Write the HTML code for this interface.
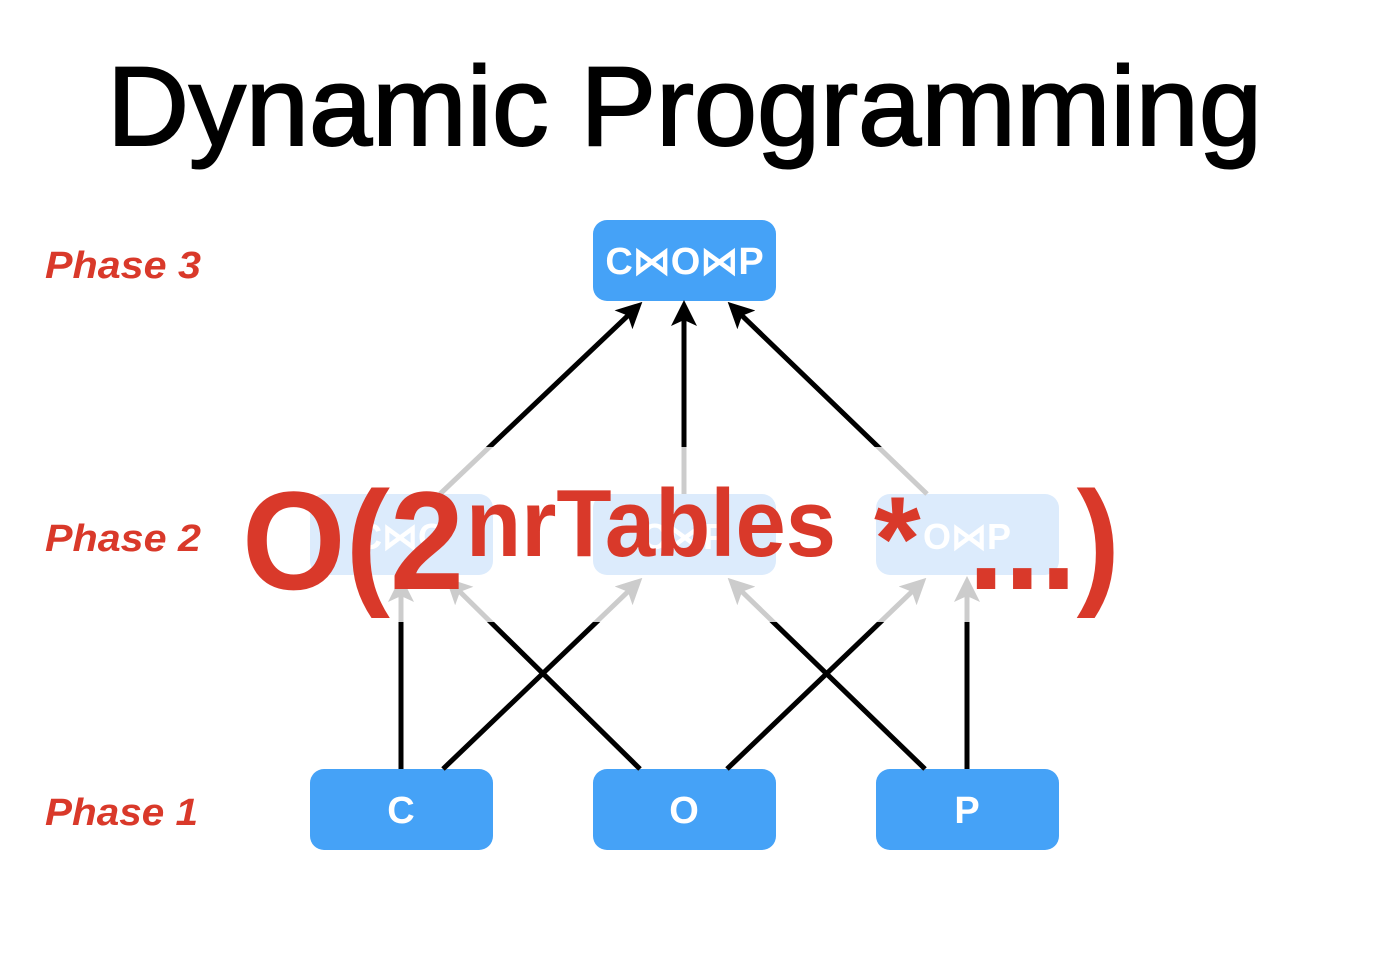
<!DOCTYPE html>
<html><head><style>body{margin:0;background:#fff}svg{display:block}</style></head><body>
<svg width="1380" height="976" xmlns="http://www.w3.org/2000/svg" font-family="Liberation Sans, Arial, sans-serif">
<defs>
<clipPath id="c1"><rect x="0" y="0" width="1380" height="447"/><rect x="0" y="622" width="1380" height="400"/></clipPath>
<marker id="ag" markerWidth="26" markerHeight="26" refX="20" refY="13" orient="auto" markerUnits="userSpaceOnUse"><path d="M0,0 L26,13 L0,26 L6,13 z" fill="#ccc"/></marker>
<marker id="ak" markerWidth="26" markerHeight="26" refX="20" refY="13" orient="auto" markerUnits="userSpaceOnUse"><path d="M0,0 L26,13 L0,26 L6,13 z" fill="#000"/></marker>
</defs>
<text x="107" y="145" font-size="112" textLength="1155" lengthAdjust="spacingAndGlyphs" stroke="#000" stroke-width="2">Dynamic Programming</text>
<g font-size="38" font-weight="bold" font-style="italic" fill="#d9392a">
<text x="45" y="278" textLength="156" lengthAdjust="spacingAndGlyphs">Phase 3</text><text x="45" y="551" textLength="156" lengthAdjust="spacingAndGlyphs">Phase 2</text><text x="45" y="825" textLength="153" lengthAdjust="spacingAndGlyphs">Phase 1</text></g>
<rect x="593" y="220" width="183" height="81" rx="14" fill="#45a2f7"/>
<text x="684.5" y="274" font-size="38" font-weight="bold" fill="#fff" text-anchor="middle">C⋈O⋈P</text>
<g fill="#45a2f7"><rect x="310" y="769" width="183" height="81" rx="14"/><rect x="593" y="769" width="183" height="81" rx="14"/><rect x="876" y="769" width="183" height="81" rx="14"/></g>
<g font-size="38" font-weight="bold" fill="#fff" text-anchor="middle"><text x="401" y="823">C</text><text x="684" y="823">O</text><text x="967" y="823">P</text></g>
<g fill="#dcebfc"><rect x="310" y="494" width="183" height="81" rx="14"/><rect x="593" y="494" width="183" height="81" rx="14"/><rect x="876" y="494" width="183" height="81" rx="14"/></g>
<g font-size="36" font-weight="bold" fill="#fff" text-anchor="middle"><text x="401" y="549">C⋈O</text><text x="684" y="549">C⋈P</text><text x="967" y="549">O⋈P</text></g>
<g stroke-width="5" fill="none">
<g stroke="#ccc">
<line x1="440" y1="494" x2="638" y2="306"/><line x1="684" y1="494" x2="684" y2="306"/><line x1="927" y1="494" x2="732" y2="306"/>
<line x1="401" y1="769" x2="401" y2="582" marker-end="url(#ag)"/><line x1="443" y1="769" x2="638" y2="582" marker-end="url(#ag)"/><line x1="640" y1="769" x2="450" y2="582" marker-end="url(#ag)"/>
<line x1="727" y1="769" x2="922" y2="582" marker-end="url(#ag)"/><line x1="925" y1="769" x2="732" y2="582" marker-end="url(#ag)"/><line x1="967" y1="769" x2="967" y2="582" marker-end="url(#ag)"/>
</g>
<g stroke="#000" clip-path="url(#c1)">
<line x1="440" y1="494" x2="638" y2="306" marker-end="url(#ak)"/><line x1="684" y1="494" x2="684" y2="306" marker-end="url(#ak)"/><line x1="927" y1="494" x2="732" y2="306" marker-end="url(#ak)"/>
<line x1="401" y1="769" x2="401" y2="600"/><line x1="443" y1="769" x2="630" y2="590"/><line x1="640" y1="769" x2="458" y2="590"/>
<line x1="727" y1="769" x2="914" y2="590"/><line x1="925" y1="769" x2="740" y2="590"/><line x1="967" y1="769" x2="967" y2="600"/>
</g></g>
<g fill="#d9392a" font-weight="bold">
<text x="242" y="589" font-size="140" textLength="222" lengthAdjust="spacingAndGlyphs">O(2</text>
<text x="466" y="556" font-size="96" textLength="370" lengthAdjust="spacingAndGlyphs">nrTables</text>
<text x="874" y="580" font-size="120">*</text>
<text x="968" y="589" font-size="140" textLength="152" lengthAdjust="spacingAndGlyphs">...)</text>
</g>
</svg>
</body></html>
